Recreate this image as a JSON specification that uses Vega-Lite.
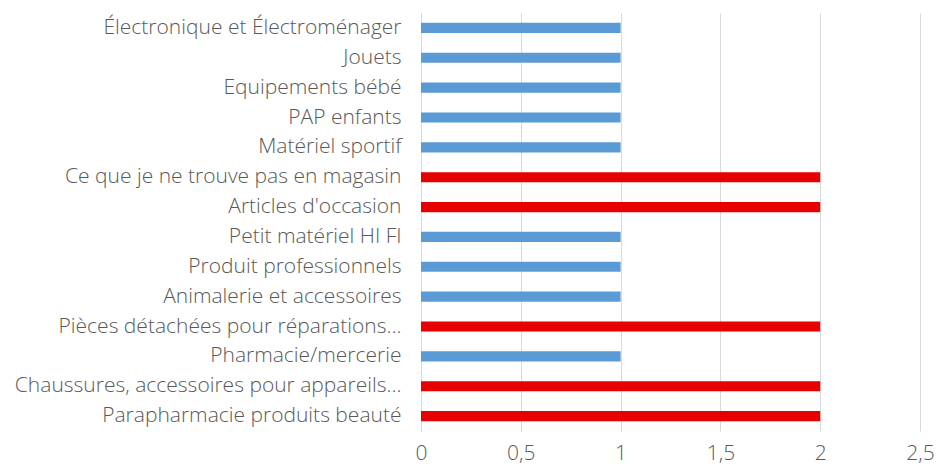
{
  "$schema": "https://vega.github.io/schema/vega-lite/v6.json",
  "autosize": "none",
  "width": 499,
  "height": 418,
  "padding": {"left": 421, "top": 13, "right": 18, "bottom": 39},
  "background": "#ffffff",
  "config": {"view": {"stroke": null}},
  "data": {
    "values": [
      {"categorie": "Électronique et Électroménager", "valeur": 1},
      {"categorie": "Jouets", "valeur": 1},
      {"categorie": "Equipements bébé", "valeur": 1},
      {"categorie": "PAP enfants", "valeur": 1},
      {"categorie": "Matériel sportif", "valeur": 1},
      {"categorie": "Ce que je ne trouve pas en magasin", "valeur": 2},
      {"categorie": "Articles d'occasion", "valeur": 2},
      {"categorie": "Petit matériel HI FI", "valeur": 1},
      {"categorie": "Produit professionnels", "valeur": 1},
      {"categorie": "Animalerie et accessoires", "valeur": 1},
      {"categorie": "Pièces détachées pour réparations…", "valeur": 2},
      {"categorie": "Pharmacie/mercerie", "valeur": 1},
      {"categorie": "Chaussures, accessoires pour appareils…", "valeur": 2},
      {"categorie": "Parapharmacie produits beauté", "valeur": 2}
    ]
  },
  "mark": {"type": "bar"},
  "encoding": {
    "y": {
      "field": "categorie",
      "type": "nominal",
      "sort": null,
      "scale": {"paddingInner": 0.66, "paddingOuter": 0.33},
      "axis": {
        "title": null,
        "domain": false,
        "ticks": false,
        "labelFont": "Open Sans",
        "labelFontSize": 21,
        "labelFontWeight": 300,
        "labelColor": "#595959",
        "labelPadding": 20,
        "labelLimit": 420
      }
    },
    "x": {
      "field": "valeur",
      "type": "quantitative",
      "scale": {"domain": [0, 2.5], "nice": false},
      "axis": {
        "title": null,
        "values": [0, 0.5, 1, 1.5, 2, 2.5],
        "format": ",.1~f",
        "formatType": "number",
        "labelExpr": "replace(datum.label, '.', ',')",
        "domain": false,
        "ticks": false,
        "grid": true,
        "gridColor": "#d9d9d9",
        "gridWidth": 1,
        "labelFont": "Open Sans",
        "labelFontSize": 21,
        "labelFontWeight": 300,
        "labelColor": "#595959",
        "labelPadding": 11,
        "labelFlush": false
      }
    },
    "color": {
      "field": "valeur",
      "type": "nominal",
      "scale": {"domain": [1, 2], "range": ["#5b9bd5", "#e60000"]},
      "legend": null
    }
  }
}
